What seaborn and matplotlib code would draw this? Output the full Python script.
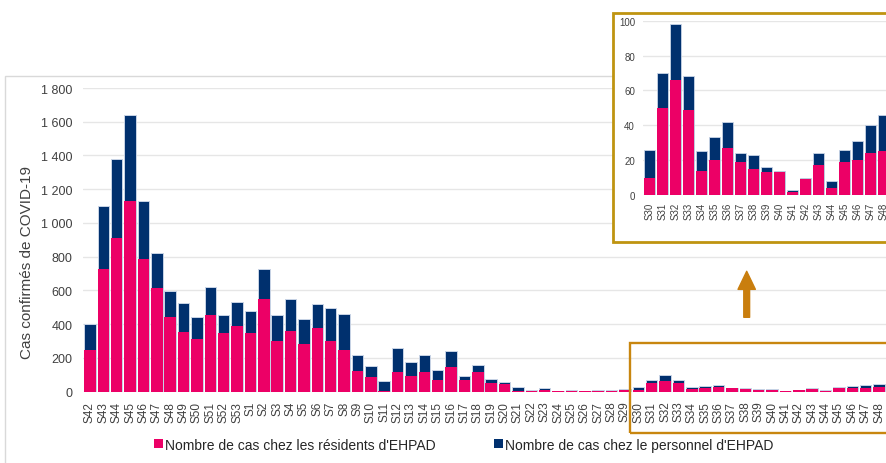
import matplotlib
matplotlib.use("Agg")
import numpy as np
import pandas as pd
import seaborn as sns
import matplotlib.pyplot as plt
from matplotlib.patches import Rectangle, FancyArrowPatch, Patch
from matplotlib.ticker import FuncFormatter

weeks = ["S42", "S43", "S44", "S45", "S46", "S47", "S48", "S49", "S50", "S51", "S52", "S53",
         "S1", "S2", "S3", "S4", "S5", "S6", "S7", "S8", "S9", "S10", "S11", "S12", "S13",
         "S14", "S15", "S16", "S17", "S18", "S19", "S20", "S21", "S22", "S23", "S24", "S25",
         "S26", "S27", "S28", "S29", "S30", "S31", "S32", "S33", "S34", "S35", "S36", "S37",
         "S38", "S39", "S40", "S41", "S42", "S43", "S44", "S45", "S46", "S47", "S48"]

residents = [250, 730, 910, 1130, 785, 615, 440, 355, 315, 455, 350, 390,
             350, 550, 300, 360, 285, 375, 300, 250, 125, 85, 2, 115, 95,
             115, 70, 145, 70, 115, 50, 45, 4, 4, 8, 6, 5,
             4, 6, 6, 8, 10, 50, 66, 49, 14, 20, 27, 19,
             15, 13, 13, 2, 9, 17, 4, 19, 20, 24, 25]

staff = [150, 370, 470, 510, 345, 205, 155, 170, 130, 165, 105, 140,
         130, 175, 155, 190, 145, 145, 195, 210, 90, 65, 63, 145, 80,
         100, 60, 95, 25, 45, 25, 13, 26, 6, 12, 1, 3,
         0, 4, 4, 8, 16, 20, 32, 19, 11, 13, 15, 5,
         8, 3, 1, 1, 1, 7, 4, 7, 11, 16, 21]

inset_start = 41  # S30 of the second year

label_res = "Nombre de cas chez les résidents d'EHPAD"
label_staff = "Nombre de cas chez le personnel d'EHPAD"
ylabel = "Cas confirmés de COVID-19"

PINK = "#EC0066"
NAVY = "#00306E"
EDGE = "#C9D4E6"
TXT = "#404040"
GRID = "#E6E6E6"

df = pd.DataFrame({"pos": np.arange(len(weeks)), "week": weeks,
                   "residents": residents, "staff": staff})
df["total"] = df["residents"] + df["staff"]

sns.set_style("white")
plt.rcParams["font.family"] = ["Liberation Sans", "DejaVu Sans"]

W, H = 887, 464
fig = plt.figure(figsize=(W / 100, H / 100), dpi=100)

def fx(px):
    return px / W

def fy(py):
    return 1 - py / H

# outer light frame of the main chart
fig.patches.append(Rectangle((fx(5), fy(470)), fx(900), (470 - 77) / H,
                             transform=fig.transFigure, facecolor="none",
                             edgecolor="#D9D9D9", lw=1, zorder=0.5))

# ---- main chart ----
ax = fig.add_axes([fx(83.3), fy(392.7), fx(885.8 - 83.3), (392.7 - 89) / H])
ax.set_facecolor("none")
sns.barplot(data=df, x="pos", y="total", color=NAVY, width=0.86, errorbar=None,
            saturation=1, ax=ax, linewidth=0.7, edgecolor=EDGE)
sns.barplot(data=df, x="pos", y="residents", color=PINK, width=0.86, errorbar=None,
            saturation=1, ax=ax, linewidth=0)
ax.set_xlim(-0.5, len(weeks) - 0.5)
ax.set_ylim(0, 1800)
ax.set_yticks(np.arange(0, 1801, 200))
ax.yaxis.set_major_formatter(FuncFormatter(lambda v, p: f"{v:,.0f}".replace(",", " ")))
ax.set_xticks(np.arange(len(weeks)))
ax.set_xticklabels(weeks, rotation=90)
ax.tick_params(axis="x", length=0, pad=6.5, labelsize=8.5, labelcolor=TXT)
ax.tick_params(axis="y", length=0, pad=8, labelsize=9, labelcolor=TXT)
ax.yaxis.grid(True, color=GRID, lw=1)
ax.set_axisbelow(True)
for s in ax.spines.values():
    s.set_visible(False)
ax.set_xlabel("")
ax.set_ylabel(ylabel, fontsize=11, color=TXT)
ax.yaxis.set_label_coords(-0.0614, 0.429)

# orange highlight box around the zoomed weeks
fig.patches.append(Rectangle((fx(630), fy(434)), fx(300), (434 - 344.3) / H,
                             transform=fig.transFigure, facecolor="none",
                             edgecolor="#C8860F", lw=1.7, zorder=1.5))

# arrow
arrow = FancyArrowPatch((fx(746.7), fy(318.3)), (fx(746.7), fy(272.3)),
                        transform=fig.transFigure,
                        arrowstyle="simple,head_length=13,head_width=12.5,tail_width=4.2",
                        mutation_scale=1, shrinkA=0, shrinkB=0,
                        color="#C97E0E", zorder=1.5)
fig.patches.append(arrow)

# inset white frame
fig.patches.append(Rectangle((fx(612.7), fy(243.3)), fx(300), (243.3 - 14.3) / H,
                             transform=fig.transFigure, facecolor="white",
                             edgecolor="#BF9410", lw=2, zorder=1))

# ---- inset ----
sub = df.iloc[inset_start:].reset_index(drop=True)
sub["pos"] = np.arange(len(sub))
axi = fig.add_axes([fx(643), fy(196), fx(13 * len(sub)), (196 - 21.7) / H], zorder=2)
axi.set_facecolor("white")
sns.barplot(data=sub, x="pos", y="total", color=NAVY, width=0.8, errorbar=None,
            saturation=1, ax=axi, linewidth=0.6, edgecolor=EDGE)
sns.barplot(data=sub, x="pos", y="residents", color=PINK, width=0.8, errorbar=None,
            saturation=1, ax=axi, linewidth=0)
axi.set_xlim(-0.5, len(sub) - 0.5)
axi.set_ylim(0, 100)
axi.set_yticks(np.arange(0, 101, 20))
axi.set_xticks(np.arange(len(sub)))
axi.set_xticklabels(sub["week"], rotation=90)
axi.tick_params(axis="x", length=0, pad=4.5, labelsize=7, labelcolor=TXT)
axi.tick_params(axis="y", length=0, pad=5.8, labelsize=7, labelcolor=TXT)
axi.yaxis.grid(True, color=GRID, lw=1)
axi.set_axisbelow(True)
for s in axi.spines.values():
    s.set_visible(False)
axi.set_xlabel("")
axi.set_ylabel("")

# legend
handles = [Patch(facecolor=PINK, edgecolor="none", label=label_res),
           Patch(facecolor=NAVY, edgecolor="none", label=label_staff)]
fig.legend(handles=handles, loc="center", bbox_to_anchor=(fx(464), fy(445.7)),
           ncol=2, frameon=False, fontsize=10, handlelength=0.6, handleheight=0.6,
           handletextpad=0.2, columnspacing=4.2, labelcolor="#262626")

fig.savefig("out.png", dpi=100)
